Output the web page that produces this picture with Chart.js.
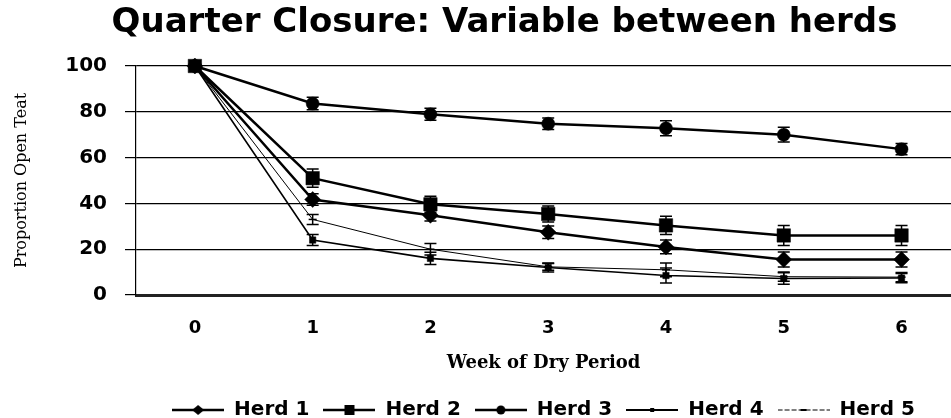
<!DOCTYPE html>
<html>
<head>
<meta charset="utf-8">
<script src="https://cdn.jsdelivr.net/npm/chart.js@4.4.1/dist/chart.umd.min.js"></script>
<style>
  html, body { margin: 0; padding: 0; background: #ffffff; overflow: hidden; }
  canvas { display: block; }
</style>
</head>
<body>
<canvas id="c" width="951" height="418" style="width:951px;height:418px"></canvas>
<script>
// ---- data ----
const weeks = [0, 1, 2, 3, 4, 5, 6];
const herdNames = ['Herd 1', 'Herd 2', 'Herd 3', 'Herd 4', 'Herd 5'];
const herd1 = [100, 41.7, 34.8, 27.4, 21, 15.5, 15.5];
const herd2 = [100, 51, 39.6, 35.4, 30.4, 26, 26];
const herd3 = [100, 83.6, 78.9, 74.8, 72.8, 70, 63.7];
const herd4 = [100, 24, 16, 12, 8.5, 7.2, 7.4];
const herd5 = [100, 33, 20, 12.3, 11, 8, 7.8];
const err1 = [0, 2.5, 2.5, 2.7, 3, 3.3, 3.3];
const err2 = [0, 4, 3.5, 3.5, 4, 4.4, 4.4];
const err3 = [0, 2.7, 2.6, 2.5, 3.3, 3.2, 2.5];
const err4 = [0, 2.4, 2.7, 2, 3.3, 2.5, 2];
const err5 = [0, 2.2, 2.5, 1.5, 3, 2, 2];
const yTicks = [0, 20, 40, 60, 80, 100];

const seriesValues = [herd1, herd2, herd3, herd4, herd5];
const seriesErrors = [err1, err2, err3, err4, err5];
const styles = [
  { pointStyle: 'rectRot', radius: 8, width: 2.5 },
  { pointStyle: 'rect', radius: 9.5, width: 2.5 },
  { pointStyle: 'circle', radius: 6.5, width: 2.5 },
  { pointStyle: 'rect', radius: 4.5, width: 1.6 },
  { pointStyle: 'line', radius: 4, width: 1 }
];

function legendImage(i) {
  const cv = document.createElement('canvas');
  cv.width = 52; cv.height = 16;
  const g = cv.getContext('2d');
  g.strokeStyle = '#000'; g.fillStyle = '#000';
  const cy = 8;
  g.lineWidth = i < 3 ? 2.5 : (i === 3 ? 1.8 : 1.2);
  if (i === 4) g.setLineDash([5, 2]);
  g.beginPath(); g.moveTo(0, cy); g.lineTo(52, cy); g.stroke();
  g.setLineDash([]);
  const cx = 26;
  g.beginPath();
  if (i === 0) { g.moveTo(cx - 6, cy); g.lineTo(cx, cy - 5); g.lineTo(cx + 6, cy); g.lineTo(cx, cy + 5); g.closePath(); g.fill(); }
  else if (i === 1) { g.fillRect(cx - 5, cy - 5, 10, 10); }
  else if (i === 2) { g.arc(cx, cy, 4.5, 0, Math.PI * 2); g.fill(); }
  else if (i === 3) { g.fillRect(cx - 2, cy - 2, 4, 4); }
  else { g.fillRect(cx - 3, cy - 1, 6, 2); }
  return cv;
}

const datasets = seriesValues.map((vals, i) => ({
  label: herdNames[i],
  data: weeks.map((w, k) => ({ x: w, y: vals[k] })),
  errors: seriesErrors[i],
  borderColor: '#000',
  backgroundColor: '#000',
  borderWidth: styles[i].width,
  pointStyle: styles[i].pointStyle,
  pointRadius: styles[i].radius,
  pointHoverRadius: styles[i].radius,
  pointBorderWidth: i === 4 ? 1.5 : 0.5,
  tension: 0,
  clip: false
}));

const errorBars = {
  id: 'errorBars',
  beforeDatasetsDraw(chart) {
    const ctx = chart.ctx;
    const xs = chart.scales.x, ys = chart.scales.y;
    ctx.save();
    ctx.strokeStyle = '#000';
    ctx.lineWidth = 1.5;
    chart.data.datasets.forEach(ds => {
      ds.data.forEach((p, k) => {
        const e = ds.errors[k];
        if (!e) return;
        const px = xs.getPixelForValue(p.x);
        const yT = ys.getPixelForValue(p.y + e);
        const yB = ys.getPixelForValue(p.y - e);
        ctx.beginPath();
        ctx.moveTo(px, yT); ctx.lineTo(px, yB);
        ctx.moveTo(px - 6, yT); ctx.lineTo(px + 6, yT);
        ctx.moveTo(px - 6, yB); ctx.lineTo(px + 6, yB);
        ctx.stroke();
      });
    });
    ctx.restore();
  }
};

new Chart(document.getElementById('c'), {
  type: 'line',
  data: { datasets },
  plugins: [errorBars],
  options: {
    responsive: false,
    animation: false,
    events: [],
    layout: { autoPadding: false, padding: { left: 58, right: 0, top: 0, bottom: -12 } },
    plugins: {
      title: {
        display: true,
        text: 'Quarter Closure: Variable between herds',
        color: '#000',
        font: { family: 'DejaVu Sans', weight: 'bold', size: 34, lineHeight: 1.2 },
        padding: { top: 3, bottom: 22.2 }
      },
      legend: {
        display: true,
        position: 'bottom',
        fullSize: false,
        labels: {
          color: '#000',
          font: { family: 'DejaVu Sans', weight: 'bold', size: 20 },
          usePointStyle: true,
          pointStyleWidth: 52,
          padding: 14,
          generateLabels(chart) {
            return chart.data.datasets.map((ds, i) => ({
              text: ds.label,
              fillStyle: '#000',
              strokeStyle: '#000',
              lineWidth: 0,
              pointStyle: legendImage(i),
              hidden: false,
              datasetIndex: i,
              fontColor: '#000'
            }));
          }
        }
      },
      tooltip: { enabled: false }
    },
    scales: {
      x: {
        type: 'linear',
        min: -0.5,
        max: 6.42,
        afterBuildTicks(scale) { scale.ticks = weeks.map(v => ({ value: v })); },
        afterFit(scale) { scale.height = 91; },
        grid: { display: false, drawTicks: false },
        border: { display: true, color: '#222', width: 3 },
        ticks: {
          color: '#000',
          font: { family: 'DejaVu Sans', weight: 'bold', size: 18 },
          padding: 23,
          autoSkip: false,
          maxRotation: 0
        },
        title: {
          display: true,
          text: 'Week of Dry Period',
          color: '#000',
          font: { family: 'DejaVu Serif', weight: 'bold', size: 18, lineHeight: 1.2 },
          padding: { top: 0, bottom: 12 }
        }
      },
      y: {
        min: 0,
        max: 100,
        afterBuildTicks(scale) { scale.ticks = yTicks.map(v => ({ value: v })); },
        afterFit(scale) { scale.width = 78; },
        grid: { color: '#000', lineWidth: 1.2, drawTicks: true, tickLength: 11 },
        border: { display: true, color: '#000', width: 1.2 },
        ticks: {
          color: '#000',
          font: { family: 'DejaVu Sans', weight: 'bold', size: 20 },
          padding: 18
        },
        title: {
          display: true,
          text: 'Proportion Open Teat',
          color: '#000',
          font: { family: 'DejaVu Serif', size: 16, lineHeight: 1.2 },
          padding: { top: -45.6, bottom: 0 }
        }
      }
    }
  }
});
</script>
</body>
</html>
